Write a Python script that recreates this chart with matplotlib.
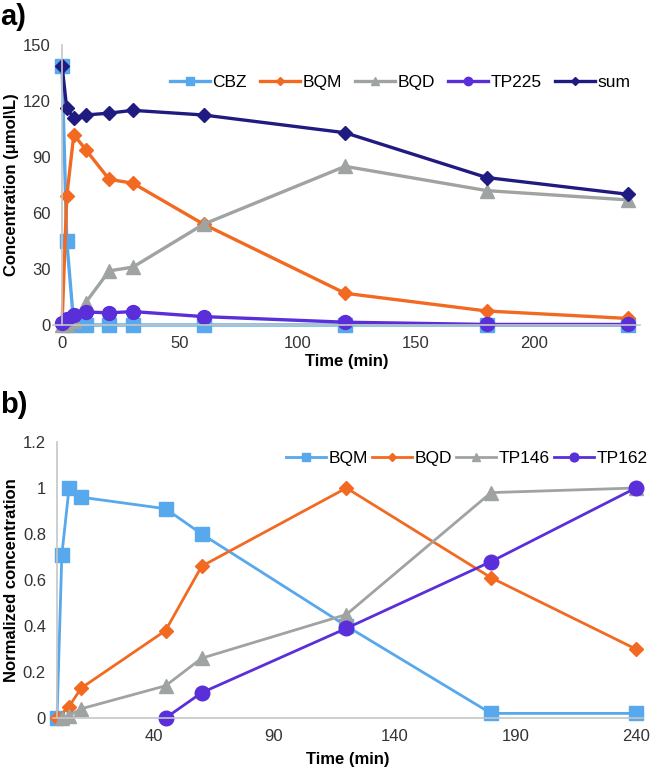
import matplotlib.pyplot as plt

plt.rcParams['font.family'] = ['Liberation Sans', 'DejaVu Sans']

# panel a) data
time_a = [0, 2, 5, 10, 20, 30, 60, 120, 180, 240]
cbz = [139, 45, 0, 0, 0, 0, 0, 0, 0, 0]
bqm_a = [0, 69, 102, 94, 78, 76, 54, 17, 7.5, 3.5]
bqd_a = [0, 0, 2, 12, 29, 31, 54, 85, 72, 67]
tp225 = [1, 3, 5.5, 7, 6.5, 7.2, 4.5, 1.5, 0.3, 0.3]
total = [139, 116, 111, 112.5, 113.5, 115, 112.5, 103, 79, 70]

# panel b) data
time_b = [0, 2, 5, 10, 45, 60, 120, 180, 240]
bqm_b = [0, 0.71, 1.0, 0.96, 0.91, 0.80, 0.40, 0.02, 0.02]
time_bqd = [0, 5, 10, 45, 60, 120, 180, 240]
bqd_b = [0, 0.05, 0.13, 0.38, 0.66, 1.0, 0.61, 0.30]
time_tp146 = [2, 5, 10, 45, 60, 120, 180, 240]
tp146 = [0, 0.01, 0.04, 0.14, 0.26, 0.45, 0.98, 1.0]
time_tp162 = [45, 60, 120, 180, 240]
tp162 = [0, 0.11, 0.39, 0.68, 1.0]

c_blue = '#57a8ec'
c_orange = '#f26a22'
c_gray = '#9fa3a1'
c_purple = '#5a2ed8'
c_navy = '#1f1b80'
c_axis = '#c4c7c6'
c_tick = '#333333'

fig = plt.figure(figsize=(6.55, 7.76), dpi=100)

# ---- panel a ----
ax1 = fig.add_axes([52.6 / 655, 1 - 325 / 776, (640 - 52.6) / 655, 280 / 776])
lw = 2.4
ax1.plot(time_a, cbz, color=c_blue, marker='s', ms=10, lw=lw, label='CBZ', clip_on=False)
ax1.plot(time_a, bqm_a, color=c_orange, marker='D', ms=7.5, lw=lw, label='BQM', clip_on=False)
ax1.plot(time_a, bqd_a, color=c_gray, marker='^', ms=10, lw=lw, label='BQD', clip_on=False)
ax1.plot(time_a, tp225, color=c_purple, marker='o', ms=10, lw=lw, label='TP225', clip_on=False)
ax1.plot(time_a, total, color=c_navy, marker='D', ms=7.5, lw=lw, label='sum', clip_on=False)
ax1.set_xlim(-4, 245)
ax1.set_ylim(0, 150)
ax1.set_xticks([0, 50, 100, 150, 200])
ax1.set_yticks([0, 30, 60, 90, 120, 150])
ax1.set_xlabel('Time (min)', fontsize=12, fontweight='bold', labelpad=2)
ax1.set_ylabel('Concentration (μmol\\L)', fontsize=12, fontweight='bold', labelpad=3)
leg1 = ax1.legend(loc='upper right', bbox_to_anchor=(1.01, 0.95), ncol=5, frameon=False,
                  fontsize=12.5, markerscale=0.6, handlelength=2.3, handletextpad=0.15,
                  columnspacing=0.75)

# ---- panel b ----
ax2 = fig.add_axes([53.4 / 655, 1 - 718 / 776, (643 - 53.4) / 655, 276 / 776])
lw = 2.0
ax2.plot(time_b, bqm_b, color=c_blue, marker='s', ms=10, lw=lw, label='BQM', clip_on=False)
ax2.plot(time_bqd, bqd_b, color=c_orange, marker='D', ms=7.5, lw=lw, label='BQD', clip_on=False)
ax2.plot(time_tp146, tp146, color=c_gray, marker='^', ms=10, lw=lw, label='TP146', clip_on=False)
ax2.plot(time_tp162, tp162, color=c_purple, marker='o', ms=10.5, lw=lw, label='TP162', clip_on=False)
ax2.set_xlim(-1.5, 243)
ax2.set_ylim(0, 1.2)
ax2.set_xticks([40, 90, 140, 190, 240])
ax2.set_yticks([0, 0.2, 0.4, 0.6, 0.8, 1.0, 1.2])
ax2.set_yticklabels(['0', '0.2', '0.4', '0.6', '0.8', '1', '1.2'])
ax2.set_xlabel('Time (min)', fontsize=12, fontweight='bold', labelpad=6)
ax2.set_ylabel('Normalized concentration', fontsize=12, fontweight='bold', labelpad=3)
leg2 = ax2.legend(loc='upper right', bbox_to_anchor=(1.035, 1.025), ncol=4, frameon=False,
                  fontsize=12.5, markerscale=0.6, handlelength=2.3, handletextpad=0.15,
                  columnspacing=0.25)

for ax in (ax1, ax2):
    for side in ('top', 'right'):
        ax.spines[side].set_visible(False)
    ax.spines['left'].set_position(('data', 0))
    ax.spines['left'].set_color(c_axis)
    ax.spines['bottom'].set_color(c_axis)
    ax.spines['left'].set_linewidth(1.2)
    ax.spines['bottom'].set_linewidth(1.2)
    ax.tick_params(length=0, labelsize=12, labelcolor=c_tick, pad=8)
    ax.set_zorder(1)

fig.text(0.0, 1 - 17 / 776, 'a)', fontsize=21, fontweight='bold', va='center', ha='left')
fig.text(0.0, 1 - 405 / 776, 'b)', fontsize=21, fontweight='bold', va='center', ha='left')

fig.savefig('out.png', dpi=100)
